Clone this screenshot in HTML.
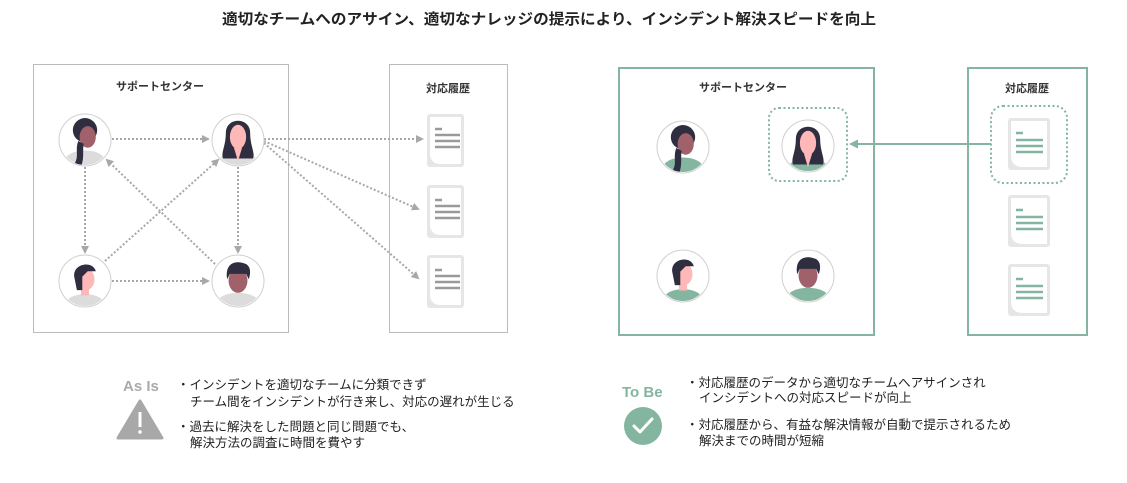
<!DOCTYPE html>
<html><head><meta charset="utf-8"><style>
html,body{margin:0;padding:0;background:#fff;}
svg{display:block;font-family:"Liberation Sans","Noto Sans CJK JP",sans-serif;}
</style></head><body>
<svg width="1127" height="483" viewBox="0 0 1127 483" xmlns="http://www.w3.org/2000/svg">
<defs>
<clipPath id="cc"><circle cx="0" cy="0" r="25"/></clipPath>
<marker id="ag" markerWidth="8" markerHeight="8" refX="6" refY="4" orient="auto" markerUnits="userSpaceOnUse"><path d="M0,0 L8,4 L0,8 Z" fill="#a8a8a8"/></marker>
<marker id="agr" markerWidth="9" markerHeight="9" refX="6" refY="4.5" orient="auto" markerUnits="userSpaceOnUse"><path d="M0,0 L9,4.5 L0,9 Z" fill="#84b5a0"/></marker>
<g id="avA">
 <circle r="26" fill="#fff" stroke="#d0d0d0" stroke-width="1"/>
 <g clip-path="url(#cc)"><g transform="translate(0,1) scale(1.35)">
  <ellipse cx="0" cy="15" rx="15" ry="8"/>
  <circle cx="0" cy="-8" r="9" fill="#2f2e41"/>
  <ellipse cx="2" cy="-3" rx="6" ry="8" fill="#a0616a"/>
  <path d="M-5,0 C-8,8 -3,12 -10,20 L-4,21 C0,14 -2,8 -1,2 Z" fill="#2f2e41"/>
 </g></g>
</g>
<g id="avB">
 <circle r="26" fill="#fff" stroke="#d0d0d0" stroke-width="1"/>
 <g clip-path="url(#cc)"><g transform="translate(0,1) scale(1.35)">
  <ellipse cx="0" cy="15" rx="14" ry="7"/>
  <path d="M-9,-6 C-9,-18 9,-18 9,-6 C9,4 13,9 11,13 L-11,13 C-13,9 -9,4 -9,-6 Z" fill="#2f2e41"/>
  <ellipse cx="0" cy="-3" rx="6" ry="9" fill="#ffb8b8"/>
  <path d="M-3,5 L3,5 L0,15 Z" fill="#ffb8b8"/>
 </g></g>
</g>
<g id="avC">
 <circle r="26" fill="#fff" stroke="#d0d0d0" stroke-width="1"/>
 <g clip-path="url(#cc)"><g transform="translate(0,1) scale(1.35)">
  <ellipse cx="0" cy="16" rx="14" ry="7"/>
  <rect x="-3" y="2" width="6" height="8" fill="#ffb8b8"/>
  <ellipse cx="1" cy="-2" rx="6" ry="8" fill="#ffb8b8"/>
  <path d="M-8,-4 C-9,-14 6,-16 8,-8 L2,-8 L-2,-4 L-2,6 L-6,6 Z" fill="#2f2e41"/>
 </g></g>
</g>
<g id="avD">
 <circle r="26" fill="#fff" stroke="#d0d0d0" stroke-width="1"/>
 <g clip-path="url(#cc)"><g transform="translate(0,1) scale(1.35)">
  <ellipse cx="0" cy="16" rx="16" ry="8"/>
  <ellipse cx="0" cy="-1" rx="7" ry="9" fill="#a0616a"/>
  <path d="M-8,-2 C-10,-14 -2,-16 4,-14 C9,-13 10,-8 8,-2 L6,-6 L-6,-6 Z" fill="#2f2e41"/>
 </g></g>
</g>
<g id="docG">
 <rect x="0" y="0" width="37" height="53" rx="3" fill="#e6e6e6"/>
 <path d="M3,3 H34 V50 H14 Q3,50 3,39 Z" fill="#fff"/>
 <line x1="8" y1="15" x2="15" y2="15" stroke="#9a9a9a" stroke-width="2.5"/>
 <line x1="8" y1="21" x2="33" y2="21" stroke="#9a9a9a" stroke-width="2.5"/>
 <line x1="8" y1="27" x2="33" y2="27" stroke="#9a9a9a" stroke-width="2.5"/>
 <line x1="8" y1="33" x2="33" y2="33" stroke="#9a9a9a" stroke-width="2.5"/>
</g>
<g id="docGr">
 <rect x="0" y="0" width="42" height="52" rx="3" fill="#e6e6e6"/>
 <path d="M3,3 H39 V49 H15 Q3,49 3,37 Z" fill="#fff"/>
 <line x1="8" y1="15" x2="15" y2="15" stroke="#84b5a0" stroke-width="2.5"/>
 <line x1="8" y1="22" x2="35" y2="22" stroke="#84b5a0" stroke-width="2.5"/>
 <line x1="8" y1="28" x2="35" y2="28" stroke="#84b5a0" stroke-width="2.5"/>
 <line x1="8" y1="34" x2="35" y2="34" stroke="#84b5a0" stroke-width="2.5"/>
</g>
</defs>

<text x="549" y="24" text-anchor="middle" font-size="15" font-weight="bold" fill="#222" textLength="654" lengthAdjust="spacingAndGlyphs">適切なチームへのアサイン、適切なナレッジの提示により、インシデント解決スピードを向上</text>

<rect x="33.5" y="64.5" width="255" height="268" fill="none" stroke="#bbb" stroke-width="1"/>
<rect x="389.5" y="64.5" width="118" height="268" fill="none" stroke="#bbb" stroke-width="1"/>
<text x="160" y="90" text-anchor="middle" font-size="11" font-weight="bold" fill="#333">サポートセンター</text>
<text x="448" y="92" text-anchor="middle" font-size="11" font-weight="bold" fill="#333">対応履歴</text>

<g stroke="#a8a8a8" stroke-width="2" stroke-dasharray="2 2" fill="none">
<line x1="112" y1="139" x2="208" y2="139" marker-end="url(#ag)"/>
<line x1="85" y1="167" x2="85" y2="252" marker-end="url(#ag)"/>
<line x1="238" y1="167" x2="238" y2="252" marker-end="url(#ag)"/>
<line x1="112" y1="281" x2="208" y2="281" marker-end="url(#ag)"/>
<line x1="105" y1="261" x2="218" y2="160" marker-end="url(#ag)"/>
<line x1="215" y1="264" x2="107" y2="160" marker-end="url(#ag)"/>
<line x1="264" y1="139" x2="422" y2="139" marker-end="url(#ag)"/>
<line x1="264" y1="141" x2="418" y2="209" marker-end="url(#ag)"/>
<line x1="264" y1="143" x2="418" y2="278" marker-end="url(#ag)"/>
</g>

<use href="#avA" x="85" y="140" fill="#dcdcdc"/>
<use href="#avB" x="238" y="140" fill="#dcdcdc"/>
<use href="#avC" x="85" y="281" fill="#dcdcdc"/>
<use href="#avD" x="238" y="281" fill="#dcdcdc"/>

<use href="#docG" x="427" y="114"/>
<use href="#docG" x="427" y="185"/>
<use href="#docG" x="427" y="255"/>

<rect x="619" y="68" width="255" height="267" fill="none" stroke="#84b5a0" stroke-width="2"/>
<rect x="968" y="68" width="119" height="267" fill="none" stroke="#84b5a0" stroke-width="2"/>
<text x="743" y="91" text-anchor="middle" font-size="11" font-weight="bold" fill="#333">サポートセンター</text>
<text x="1027" y="92" text-anchor="middle" font-size="11" font-weight="bold" fill="#333">対応履歴</text>

<rect x="769" y="108" width="78" height="73" rx="10" fill="none" stroke="#84b5a0" stroke-width="2" stroke-dasharray="2 2.5"/>
<rect x="991" y="106" width="76" height="77" rx="12" fill="none" stroke="#84b5a0" stroke-width="2" stroke-dasharray="2 2.5"/>
<line x1="991" y1="144" x2="852" y2="144" stroke="#84b5a0" stroke-width="2" marker-end="url(#agr)"/>

<use href="#avA" x="683" y="147" fill="#84b5a0"/>
<use href="#avB" x="808" y="146" fill="#84b5a0"/>
<use href="#avC" x="683" y="276" fill="#84b5a0"/>
<use href="#avD" x="808" y="276" fill="#84b5a0"/>

<use href="#docGr" x="1008" y="118"/>
<use href="#docGr" x="1008" y="195"/>
<use href="#docGr" x="1008" y="264"/>

<text x="123" y="391" font-size="15" font-weight="bold" fill="#aaa">As Is</text>
<path d="M140,401 L162,438 L118,438 Z" fill="#a8a8a8" stroke="#a8a8a8" stroke-width="3" stroke-linejoin="round"/>
<rect x="138.5" y="412" width="3" height="15" fill="#fff"/>
<circle cx="140" cy="432" r="1.8" fill="#fff"/>
<g font-size="12.5" fill="#222">
<text x="177" y="389">・インシデントを適切なチームに分類できず</text>
<text x="190" y="406">チーム間をインシデントが行き来し、対応の遅れが生じる</text>
<text x="177" y="431">・過去に解決をした問題と同じ問題でも、</text>
<text x="190" y="447">解決方法の調査に時間を費やす</text>
</g>

<text x="622" y="397" font-size="15" font-weight="bold" fill="#84b5a0">To Be</text>
<circle cx="643" cy="426" r="19" fill="#84b5a0"/>
<path d="M634,426 L640,432 L652,419" fill="none" stroke="#fff" stroke-width="3" stroke-linecap="round" stroke-linejoin="round"/>
<g font-size="12.5" fill="#222">
<text x="686" y="387">・対応履歴のデータから適切なチームへアサインされ</text>
<text x="699" y="402">インシデントへの対応スピードが向上</text>
<text x="686" y="429">・対応履歴から、有益な解決情報が自動で提示されるため</text>
<text x="699" y="445">解決までの時間が短縮</text>
</g>
</svg>
</body></html>
